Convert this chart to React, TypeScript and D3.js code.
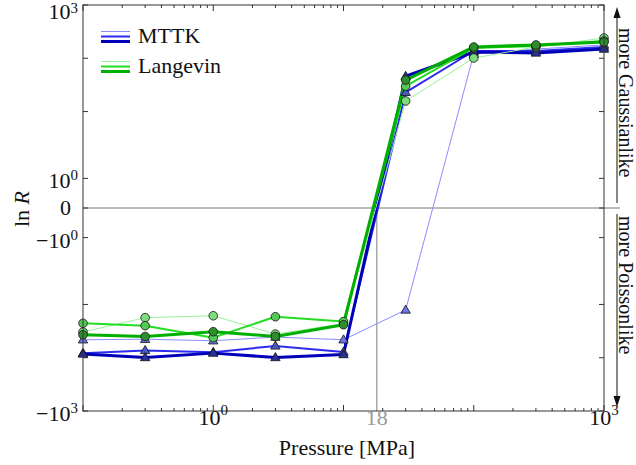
import React from "react";
import * as d3 from "d3";

const pressures = [0.1, 0.3, 1, 3, 10, 30, 100, 300, 1000];
const mttkLight = [-46, -45, -48, -41, -46, -12.7, 120, 149, 178];
const mttkMedium = [-82, -73, -79, -60, -78, 23, 137, 137, 163];
const mttkDark = [-85, -99, -82, -99, -87, 46, 131, 126, 149];
const langevinLight = [-33, -17.7, -16.3, -36, -23, 15.8, 101, 163, 240];
const langevinMedium = [-22.6, -25, -42, -17, -21, 30, 156, 170, 211];
const langevinDark = [-37, -40, -32.5, -40, -24, 39, 163, 178, 202];

const xMajorTicks = [0.1, 1, 10, 100, 1000];
const xLabels = [{ v: 1, base: "10", exp: "0" }, { v: 1000, base: "10", exp: "3" }];
const criticalPressure = 18;
const yTicks = [-1000, -100, -10, -1, 0, 1, 10, 100, 1000];
const yLabels = [
  { v: 1000, text: "10", exp: "3" },
  { v: 1, text: "10", exp: "0" },
  { v: 0, text: "0", exp: "" },
  { v: -1, text: "\u221210", exp: "0" },
  { v: -1000, text: "\u221210", exp: "3" },
];

const W = 636, H = 465;
const L = 83, R = 604, T = 5, B = 411;
const LINTHRESH = 2;
const LINSCALE = 1 / 0.9;
const symT = (v: number) => {
  const a = Math.abs(v);
  const s = Math.sign(v);
  if (a <= LINTHRESH) return (v / LINTHRESH) * LINSCALE;
  return s * (LINSCALE + Math.log10(a / LINTHRESH));
};

const x = d3.scaleLog().domain([0.1, 1000]).range([L, R]);
const yLin = d3.scaleLinear().domain([symT(-1000), symT(1000)]).range([B, T]);
const y = (v: number) => yLin(symT(v));

const series = [
  { name: "MTTK", vals: mttkLight, color: "#8c8cff", w: 1, marker: "tri", fill: "#6c78e0" },
  { name: "MTTK", vals: mttkMedium, color: "#2c2cee", w: 2, marker: "tri", fill: "#4a58c8" },
  { name: "MTTK", vals: mttkDark, color: "#0000b8", w: 3, marker: "tri", fill: "#28309c" },
  { name: "Langevin", vals: langevinLight, color: "#9cf09c", w: 1, marker: "circ", fill: "#7ddc7d" },
  { name: "Langevin", vals: langevinMedium, color: "#22dd22", w: 2, marker: "circ", fill: "#55c855" },
  { name: "Langevin", vals: langevinDark, color: "#00b000", w: 3, marker: "circ", fill: "#2e8e2e" },
];

const FONT = "Liberation Serif, DejaVu Serif, serif";
const ts = { fontFamily: FONT };

export default function App() {
  const line = d3
    .line<number>()
    .x((_, i) => x(pressures[i]))
    .y((d) => y(d));
  const tri = d3.symbol().type(d3.symbolTriangle).size(38)() as string;

  const minorX: number[] = [];
  for (let e = -1; e < 3; e++) {
    for (let m = 2; m <= 9; m++) minorX.push(m * Math.pow(10, e));
  }

  return (
    <svg width={W} height={H} style={{ position: "absolute", left: 0, top: 0, background: "#fff", fontFamily: FONT }}>
      {/* reference lines */}
      <line x1={L} x2={620} y1={y(0)} y2={y(0)} stroke="#777" strokeWidth={1} />
      <line x1={x(criticalPressure)} x2={x(criticalPressure)} y1={y(0)} y2={B} stroke="#aaa" strokeWidth={1.5} />

      {/* data */}
      {series.map((s, si) => (
        <path key={"l" + si} d={line(s.vals) as string} fill="none" stroke={s.color} strokeWidth={s.w} strokeLinejoin="round" />
      ))}
      {series.map((s, si) =>
        s.vals.map((v, i) =>
          s.marker === "tri" ? (
            <path key={"m" + si + "-" + i} d={tri} transform={`translate(${x(pressures[i])},${y(v) + 0.5})`} fill={s.fill} stroke="#111" strokeWidth={0.8} />
          ) : (
            <circle key={"m" + si + "-" + i} cx={x(pressures[i])} cy={y(v)} r={4.3} fill={s.fill} stroke="#111" strokeWidth={0.8} />
          )
        )
      )}

      {/* frame */}
      <rect x={L} y={T} width={R - L} height={B - T} fill="none" stroke="#333" strokeWidth={1} />

      {/* x ticks */}
      {xMajorTicks.map((v) => (
        <g key={"xt" + v}>
          <line x1={x(v)} x2={x(v)} y1={B} y2={B - 6} stroke="#333" />
          <line x1={x(v)} x2={x(v)} y1={T} y2={T + 6} stroke="#333" />
        </g>
      ))}
      {minorX.map((v) => (
        <g key={"xm" + v}>
          <line x1={x(v)} x2={x(v)} y1={B} y2={B - 3} stroke="#333" />
          <line x1={x(v)} x2={x(v)} y1={T} y2={T + 3} stroke="#333" />
        </g>
      ))}
      {xLabels.map((l) => (
        <text key={"xl" + l.v} x={x(l.v)} y={425} fontSize={22} textAnchor="middle" fill="#111" style={ts}>
          {l.base}
          <tspan fontSize={15} dy={-10}>{l.exp}</tspan>
        </text>
      ))}
      <text x={x(criticalPressure)} y={425} fontSize={22} textAnchor="middle" fill="#999" style={ts}>18</text>
      <text x={347} y={455} fontSize={22} textAnchor="middle" fill="#111" style={ts}>Pressure [MPa]</text>

      {/* y ticks */}
      {yTicks.map((v) => (
        <g key={"yt" + v}>
          <line x1={L} x2={L + 5} y1={y(v)} y2={y(v)} stroke="#333" />
          <line x1={R} x2={R - 5} y1={y(v)} y2={y(v)} stroke="#333" />
        </g>
      ))}
      {yLabels.map((l) => {
        const top = y(l.v) + 10 < 19;
        return l.exp ? (
          <text key={"yl" + l.v} x={78} y={top ? 19 : y(l.v) + 10} fontSize={22} textAnchor="end" fill="#111" style={ts}>
            {l.text}
            <tspan fontSize={15} dy={top ? -6 : -8}>{l.exp}</tspan>
          </text>
        ) : (
          <text key={"yl" + l.v} x={71} y={y(l.v) + 7} fontSize={22} textAnchor="end" fill="#111" style={ts}>{l.text}</text>
        );
      })}
      <text transform={`translate(29,${209}) rotate(-90)`} fontSize={22} textAnchor="middle" fill="#111" style={ts}>
        ln <tspan fontStyle="italic">R</tspan>
      </text>

      {/* legend */}
      {[{ label: "MTTK", ys: [31.5, 36.5, 41.5], idx: [0, 1, 2], ty: 43 }, { label: "Langevin", ys: [61.5, 66.5, 71.5], idx: [3, 4, 5], ty: 73 }].map((g) => (
        <g key={g.label}>
          {g.idx.map((si, k) => (
            <line key={si} x1={101} x2={130} y1={g.ys[k]} y2={g.ys[k]} stroke={series[si].color} strokeWidth={series[si].w} />
          ))}
          <text x={138} y={g.ty} fontSize={22} fill="#111" style={ts}>{g.label}</text>
        </g>
      ))}

      {/* right annotations */}
      <line x1={617} x2={617} y1={203} y2={16} stroke="#111" strokeWidth={1} />
      <path d="M617,7 L613.5,18 L620.5,18 Z" fill="#111" />
      <line x1={617} x2={617} y1={214} y2={398} stroke="#111" strokeWidth={1} />
      <path d="M617,407 L613.5,396 L620.5,396 Z" fill="#111" />
      <text transform="translate(619,28) rotate(90)" fontSize={20} fill="#111" style={ts}>more Gaussianlike</text>
      <text transform="translate(619,216) rotate(90)" fontSize={20} fill="#111" style={ts}>more Poissonlike</text>
    </svg>
  );
}
